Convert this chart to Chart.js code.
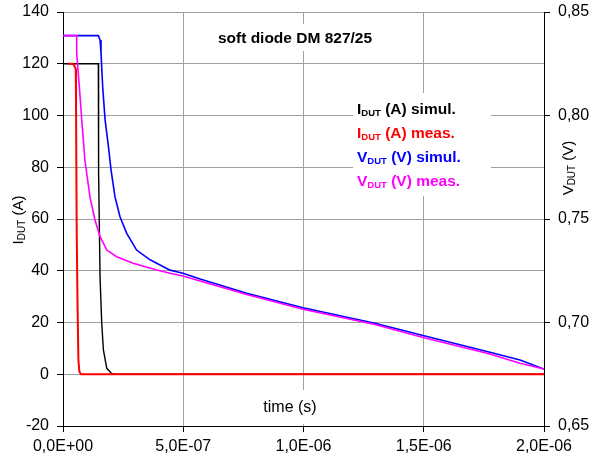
<!DOCTYPE html>
<html>
<head>
<meta charset="utf-8">
<script src="https://cdn.jsdelivr.net/npm/chart.js@4.4.1/dist/chart.umd.min.js"></script>
<style>
  html, body { margin: 0; padding: 0; background: #fff; }
  #wrap { width: 591px; height: 463px; }
</style>
</head>
<body>
<div id="wrap"><canvas id="diodeChart" width="591" height="463"></canvas></div>
<script>
// time in ns, currents in A, voltages in V
const iSimTime = [0, 147, 148, 154, 161, 168, 182, 202, 215, 2000];
const iSimValues = [120, 120, 78, 37.7, 19.8, 9.4, 2.3, 0.3, 0, 0];

const iMeasTime = [22, 43, 53, 54, 57, 60, 64, 68, 75, 2000];
const iMeasValues = [120, 120, 118, 107, 55, 30, 5.5, 1, 0, 0];

const vSimTime = [0, 147, 154, 158, 165, 175, 189, 200, 216, 237, 265, 306, 362, 445, 499, 570, 764, 998, 1297, 1501, 1775, 1900, 2000];
const vSimValues = [0.8386, 0.8386, 0.8365, 0.8303, 0.8139, 0.7979, 0.7850, 0.7735, 0.7608, 0.7511, 0.7431, 0.7350, 0.7303, 0.7253, 0.7238, 0.7210, 0.7141, 0.7071, 0.6996, 0.6936, 0.6856, 0.6819, 0.6775];

const vMeasTime = [0, 57, 57, 68, 78, 91, 112, 133, 154, 182, 223, 292, 390, 445, 499, 570, 764, 998, 1297, 1501, 1775, 1900, 2000];
const vMeasValues = [0.8386, 0.8386, 0.8300, 0.8138, 0.7979, 0.7785, 0.7608, 0.7495, 0.7415, 0.7350, 0.7318, 0.7286, 0.7254, 0.7238, 0.7225, 0.7200, 0.7135, 0.7064, 0.6990, 0.6926, 0.6848, 0.6803, 0.6775];

const xTickLabels = ['0,0E+00', '5,0E-07', '1,0E-06', '1,5E-06', '2,0E-06'];
const yRightTickLabels = ['0,65', '0,70', '0,75', '0,80', '0,85'];

const seriesNames = [
    ['I', 'DUT', ' (A) simul.'],
    ['I', 'DUT', ' (A) meas.'],
    ['V', 'DUT', ' (V) simul.'],
    ['V', 'DUT', ' (V) meas.']
];
const seriesColors = ['#000000', '#ff0000', '#0000ff', '#ff00ff'];

const FONT = '"Liberation Sans", Arial, sans-serif';
const GRID = '#a0a0a0';

function toPoints(xs, ys) {
    return xs.map((x, i) => ({ x: x, y: ys[i] }));
}

function richWidth(ctx, parts, size, subSize, bold) {
    let w = 0;
    parts.forEach((p, i) => {
        ctx.font = (bold ? 'bold ' : '') + (i === 1 ? subSize : size) + 'px ' + FONT;
        w += ctx.measureText(p).width;
    });
    return w;
}

function drawRich(ctx, parts, x, y, size, subSize, bold, color) {
    let cx = x;
    ctx.fillStyle = color;
    ctx.textBaseline = 'alphabetic';
    ctx.textAlign = 'left';
    parts.forEach((p, i) => {
        ctx.font = (bold ? 'bold ' : '') + (i === 1 ? subSize : size) + 'px ' + FONT;
        ctx.fillText(p, cx, i === 1 ? y + 2 : y);
        cx += ctx.measureText(p).width;
    });
}

const textPlugin = {
    id: 'texts',
    afterDraw(chart) {
        const ctx = chart.ctx;
        ctx.save();
        // white boxes behind the texts
        ctx.fillStyle = '#fff';
        ctx.fillRect(212, 24, 170, 27);
        ctx.fillRect(353, 93, 138, 103);
        ctx.fillRect(258, 390, 66, 34);

        // title
        ctx.fillStyle = '#000';
        ctx.font = 'bold 15.5px ' + FONT;
        ctx.textAlign = 'center';
        ctx.textBaseline = 'alphabetic';
        ctx.fillText('soft diode DM 827/25', 295, 43);

        // x axis title
        ctx.font = '16px ' + FONT;
        ctx.fillText('time (s)', 290, 412);

        // legend
        seriesNames.forEach((parts, i) => {
            drawRich(ctx, parts, 357, 114 + i * 24, 15.5, 9.5, true, seriesColors[i]);
        });

        // left axis title
        const leftParts = ['I', 'DUT', ' (A)'];
        let w = richWidth(ctx, leftParts, 15, 10, false);
        ctx.save();
        ctx.translate(23, 220);
        ctx.rotate(-Math.PI / 2);
        drawRich(ctx, leftParts, -w / 2, 0, 15, 10, false, '#000');
        ctx.restore();

        // right axis title
        const rightParts = ['V', 'DUT', ' (V)'];
        w = richWidth(ctx, rightParts, 15, 10, false);
        ctx.save();
        ctx.translate(573, 168);
        ctx.rotate(-Math.PI / 2);
        drawRich(ctx, rightParts, -w / 2, 0, 15, 10, false, '#000');
        ctx.restore();

        ctx.restore();
    }
};

const data = {
    datasets: [
        {
            label: 'I_DUT (A) meas.',
            data: toPoints(iMeasTime, iMeasValues),
            borderColor: seriesColors[1],
            borderWidth: 2,
            yAxisID: 'y',
            order: 1
        },
        {
            label: 'V_DUT (V) meas.',
            data: toPoints(vMeasTime, vMeasValues),
            borderColor: seriesColors[3],
            borderWidth: 1.6,
            yAxisID: 'y1',
            order: 2
        },
        {
            label: 'I_DUT (A) simul.',
            data: toPoints(iSimTime, iSimValues),
            borderColor: seriesColors[0],
            borderWidth: 1.4,
            yAxisID: 'y',
            order: 3
        },
        {
            label: 'V_DUT (V) simul.',
            data: toPoints(vSimTime, vSimValues),
            borderColor: seriesColors[2],
            borderWidth: 1.6,
            yAxisID: 'y1',
            order: 4
        }
    ]
};

function fitVertical(width) {
    return (s) => {
        s.width = width;
        s.paddingTop = 0;
        s.paddingBottom = 0;
    };
}

const config = {
    type: 'line',
    data: data,
    options: {
        responsive: false,
        animation: false,
        layout: { padding: { top: 12, left: 0, right: 0, bottom: 0 } },
        elements: { point: { radius: 0 }, line: { tension: 0, fill: false } },
        plugins: {
            legend: { display: false },
            title: { display: false },
            tooltip: { enabled: false }
        },
        scales: {
            x: {
                type: 'linear',
                min: 0,
                max: 2000,
                afterFit: (s) => { s.height = 37; s.paddingLeft = 0; s.paddingRight = 0; },
                ticks: {
                    stepSize: 500,
                    maxRotation: 0,
                    padding: 5,
                    color: '#000',
                    font: { family: FONT, size: 16 },
                    callback: (v, i) => xTickLabels[i]
                },
                grid: {
                    color: (c) => (c.index === 0 || c.index === 4) ? 'rgba(0,0,0,0)' : GRID,
                    tickColor: '#000',
                    tickLength: 6
                },
                border: { color: '#000', width: 1 }
            },
            y: {
                position: 'left',
                min: -20,
                max: 140,
                afterFit: fitVertical(63),
                ticks: {
                    stepSize: 20,
                    padding: 8,
                    color: '#000',
                    font: { family: FONT, size: 16 },
                    callback: (v) => String(v)
                },
                grid: {
                    color: (c) => c.index === 0 ? 'rgba(0,0,0,0)' : GRID,
                    tickColor: '#000',
                    tickLength: 6
                },
                border: { color: '#000', width: 1 }
            },
            y1: {
                position: 'right',
                min: 0.65,
                max: 0.85,
                afterFit: fitVertical(47),
                ticks: {
                    stepSize: 0.05,
                    padding: 8,
                    color: '#000',
                    font: { family: FONT, size: 16 },
                    callback: (v, i) => yRightTickLabels[i]
                },
                grid: {
                    drawOnChartArea: false,
                    tickColor: '#000',
                    tickLength: 6
                },
                border: { color: '#000', width: 1 }
            }
        }
    },
    plugins: [textPlugin]
};

new Chart(document.getElementById('diodeChart'), config);
</script>
</body>
</html>
